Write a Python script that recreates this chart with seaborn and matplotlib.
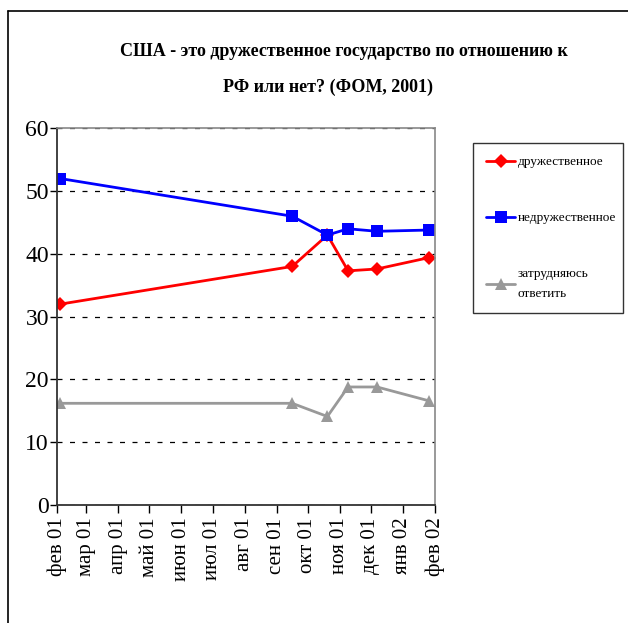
import pandas as pd
import numpy as np
import matplotlib
matplotlib.use("Agg")
import matplotlib.pyplot as plt
import seaborn as sns

# survey dates and shares, %
dates = ['2001-02-04', '2001-09-16', '2001-10-20', '2001-11-09', '2001-12-07', '2002-01-26']
friendly = [32, 38, 43, 37.3, 37.6, 39.4]
unfriendly = [52, 46, 43, 44, 43.6, 43.8]
hard_to_say = [16.2, 16.2, 14.1, 18.8, 18.8, 16.6]

series_names = ['дружественное', 'недружественное', 'затрудняюсь\nответить']

tick_dates = pd.date_range('2001-02-01', '2002-02-01', freq='MS')
tick_labels = ['фев 01', 'мар 01', 'апр 01', 'май 01', 'июн 01', 'июл 01', 'авг 01',
               'сен 01', 'окт 01', 'ноя 01', 'дек 01', 'янв 02', 'фев 02']

df = pd.DataFrame({
    'Дата': pd.to_datetime(dates * 3),
    'Ответ': np.repeat(series_names, len(dates)),
    'Процент': friendly + unfriendly + hard_to_say,
})

sns.set_style('white')
plt.rcParams['font.family'] = ['Liberation Serif', 'DejaVu Serif']
plt.rcParams['text.color'] = 'black'
plt.rcParams['xtick.color'] = 'black'
plt.rcParams['ytick.color'] = 'black'

fig = plt.figure(figsize=(6.28, 6.23), dpi=100)
ax = fig.add_axes([0.0912, 0.1894, 0.6015, 0.6046])

palette = {series_names[0]: '#ff0000', series_names[1]: '#0000ff', series_names[2]: '#999999'}
markers = {series_names[0]: 'D', series_names[1]: 's', series_names[2]: '^'}

sns.lineplot(data=df, x='Дата', y='Процент', hue='Ответ', style='Ответ',
             palette=palette, markers=markers, dashes=False, markersize=9,
             markeredgewidth=0, linewidth=2.0, ax=ax, legend=False)

# diamond a bit narrower in the original
for line in ax.get_lines():
    if line.get_marker() == 'D':
        line.set_markersize(7.5)

ax.set_xlim(tick_dates[0], tick_dates[-1])
ax.set_ylim(0, 60)
ax.set_yticks(range(0, 61, 10))
ax.set_xticks(tick_dates)
ax.set_xticklabels(tick_labels, rotation=90, fontsize=15)
ax.tick_params(axis='y', labelsize=17, direction='out', length=5, width=1, pad=1, left=True)
ax.tick_params(axis='x', direction='out', length=6, width=1, pad=3, bottom=True)
ax.set_xlabel('')
ax.set_ylabel('')

ax.yaxis.grid(True, linestyle=(0, (4, 6)), color='black', linewidth=0.9)
ax.xaxis.grid(False)
for side in ['left', 'bottom']:
    ax.spines[side].set_color('#333333')
    ax.spines[side].set_linewidth(1.3)
for side in ['top', 'right']:
    ax.spines[side].set_color('#888888')
    ax.spines[side].set_linewidth(1.2)

fig.text(344 / 628, 0.918, 'США - это дружественное государство по отношению к',
         ha='center', va='center', fontsize=13, fontweight='bold')
fig.text(328 / 628, 0.860, 'РФ или нет? (ФОМ, 2001)',
         ha='center', va='center', fontsize=13, fontweight='bold')

leg = fig.legend(handles=ax.get_lines()[:3], labels=series_names,
                 loc='upper left',
                 bbox_to_anchor=(473 / 628, 1 - 323 / 623, 150 / 628, 180 / 623),
                 mode='expand', frameon=True, fancybox=False, edgecolor='black',
                 fontsize=9.5, handlelength=2.2, handletextpad=0.2, labelspacing=3.3,
                 borderpad=1.0, borderaxespad=0)
leg.get_frame().set_linewidth(1.0)
for t in leg.get_texts():
    t.set_linespacing(1.9)

# chart area border (only left and top visible in the crop)
fig.add_artist(plt.Line2D([8 / 628, 8 / 628], [0, 1 - 11 / 623], color='black', linewidth=1.2))
fig.add_artist(plt.Line2D([8 / 628, 1], [1 - 11 / 623, 1 - 11 / 623], color='black', linewidth=1.2))

fig.savefig('out.png', dpi=100)
